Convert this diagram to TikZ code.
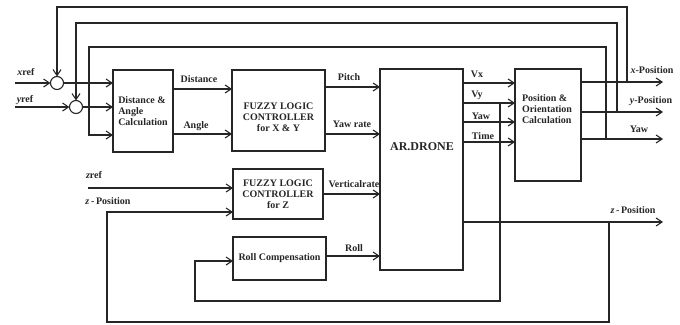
\documentclass[tikz,border=0pt]{standalone}
\usepackage{fontspec}
\setmainfont{Liberation Serif}
\usetikzlibrary{arrows.meta}
\begin{document}
\begin{tikzpicture}[x=1pt,y=-1pt,line width=1.1pt,color=black!85,
  every node/.style={font=\bfseries\fontsize{10}{11.2}\selectfont, inner sep=0pt, outer sep=0pt},
  blk/.style={draw, line width=1.1pt},
  lbl/.style={align=left},
  arr/.style={-{Straight Barb[length=6pt,width=8pt]}},
  sumc/.style={draw, circle, minimum size=13pt, line width=1.1pt}]
\useasboundingbox (0,0) rectangle (680,324);

% blocks
\node[blk, minimum width=60pt, minimum height=82pt, lbl] (dac) at (143,111) {Distance \&\\Angle\\Calculation};
\node[blk, minimum width=93pt, minimum height=81pt] (flcxy) at (278.5,110.5) {};
\node[align=center] (flcxytxt) at (278.5,117) {FUZZY LOGIC\\CONTROLLER\\for X \& Y};
\node[blk, minimum width=83pt, minimum height=201pt] (drone) at (421.5,169.5) {};
\node[font=\bfseries\fontsize{12}{13}\selectfont] (dronetxt) at (422,147) {AR.DRONE};
\node[blk, minimum width=66pt, minimum height=112pt] (pos) at (548,125) {};
\node[lbl] (postxt) at (547,109) {Position \&\\Orientation\\Calculation};
\node[blk, minimum width=90pt, minimum height=50pt, align=center] (flcz) at (278,194) {FUZZY LOGIC\\CONTROLLER\\for Z};
\node[blk, minimum width=93pt, minimum height=43pt] (roll) at (279.5,258.5) {Roll Compensation};

% summing junctions
\node[sumc] (c1) at (57,83) {};
\node[sumc] (c2) at (76,107) {};

% helper coordinates
\coordinate (xin) at (15,83);
\coordinate (yin) at (15,107);
\coordinate (zin) at (88,188);
\coordinate (r135) at (0,135);
\coordinate (r89) at (0,89);
\coordinate (r134) at (0,134);
\coordinate (r87) at (0,87);
\coordinate (r194) at (0,194);
\coordinate (r256) at (0,256);
\coordinate (r83) at (0,83);
\coordinate (r103) at (0,103);
\coordinate (r122) at (0,122);
\coordinate (r142) at (0,142);
\coordinate (r212) at (0,212);
\coordinate (r261) at (0,261);
\coordinate (xo) at (663,82);
\coordinate (yo) at (663,112);
\coordinate (yawo) at (663,139);
\coordinate (zo) at (663,222);
\coordinate (t1) at (627,82);
\coordinate (t2) at (617,112);
\coordinate (t3) at (606,139);
\coordinate (k1) at (57,7);
\coordinate (k2) at (76,23);
\coordinate (k3) at (89,47);
\coordinate (tv) at (500,103);
\coordinate (kv1) at (500,301);
\coordinate (kv2) at (195,301);
\coordinate (tz) at (609,222);
\coordinate (kz1) at (609,322);
\coordinate (kz2) at (107,322);

% inputs
\draw[arr] (xin) -- (c1);
\draw[arr] (yin) -- (c2);
\draw[arr] (c1) -- (c1 -| dac.west);
\draw[arr] (c2) -- (c2 -| dac.west);
\draw[arr] (zin) -- (zin -| flcz.west);

% forward paths
\draw[arr] (dac.east |- r89) -- (flcxy.west |- r89);
\draw[arr] (dac.east |- r134) -- (flcxy.west |- r134);
\draw[arr] (flcxy.east |- r87) -- (drone.west |- r87);
\draw[arr] (flcxy.east |- r134) -- (drone.west |- r134);
\draw[arr] (flcz.east |- r194) -- (drone.west |- r194);
\draw[arr] (roll.east |- r256) -- (drone.west |- r256);
\draw[arr] (drone.east |- r83) -- (pos.west |- r83);
\draw[arr] (drone.east |- r103) -- (pos.west |- r103);
\draw[arr] (drone.east |- r122) -- (pos.west |- r122);
\draw[arr] (drone.east |- r142) -- (pos.west |- r142);
\draw[arr] (pos.east |- xo) -- (xo);
\draw[arr] (pos.east |- yo) -- (yo);
\draw[arr] (pos.east |- yawo) -- (yawo);
\draw[arr] (drone.east |- zo) -- (zo);

% feedback paths
\draw[arr] (t1) |- (k1) -- (c1);
\draw[arr] (t2) |- (k2) -- (c2);
\draw[arr] (t3) |- (k3) |- (dac.west |- r135);
\draw[arr] (tv) -- (kv1) -- (kv2) |- (roll.west |- r261);
\draw[arr] (tz) -- (kz1) -- (kz2) |- (flcz.west |- r212);

% labels
\node (lxref) at (26,72) {\textit{x}ref};
\node (lyref) at (25,100) {\textit{y}ref};
\node (lzref) at (94,175) {\textit{z}ref};
\node (lzpos) at (108,201) {\textit{z}\,-\,Position};
\node (ldist) at (199,79) {Distance};
\node (lang) at (196,126) {Angle};
\node (lpitch) at (349,77) {Pitch};
\node (lyawr) at (352,124) {Yaw rate};
\node (lvr) at (354,184) {Verticalrate};
\node (lroll) at (354,248) {Roll};
\node (lvx) at (477,74) {Vx};
\node (lvy) at (477,95) {Vy};
\node (lyaw) at (481,116) {Yaw};
\node (ltime) at (483,136) {Time};
\node (lxpos) at (652,70) {\textit{x}-Position};
\node (lypos) at (651,101) {\textit{y}-Position};
\node (lyawo) at (639,129) {Yaw};
\node (lzposo) at (633,210) {\textit{z}\,-\,Position};
\end{tikzpicture}
\end{document}
